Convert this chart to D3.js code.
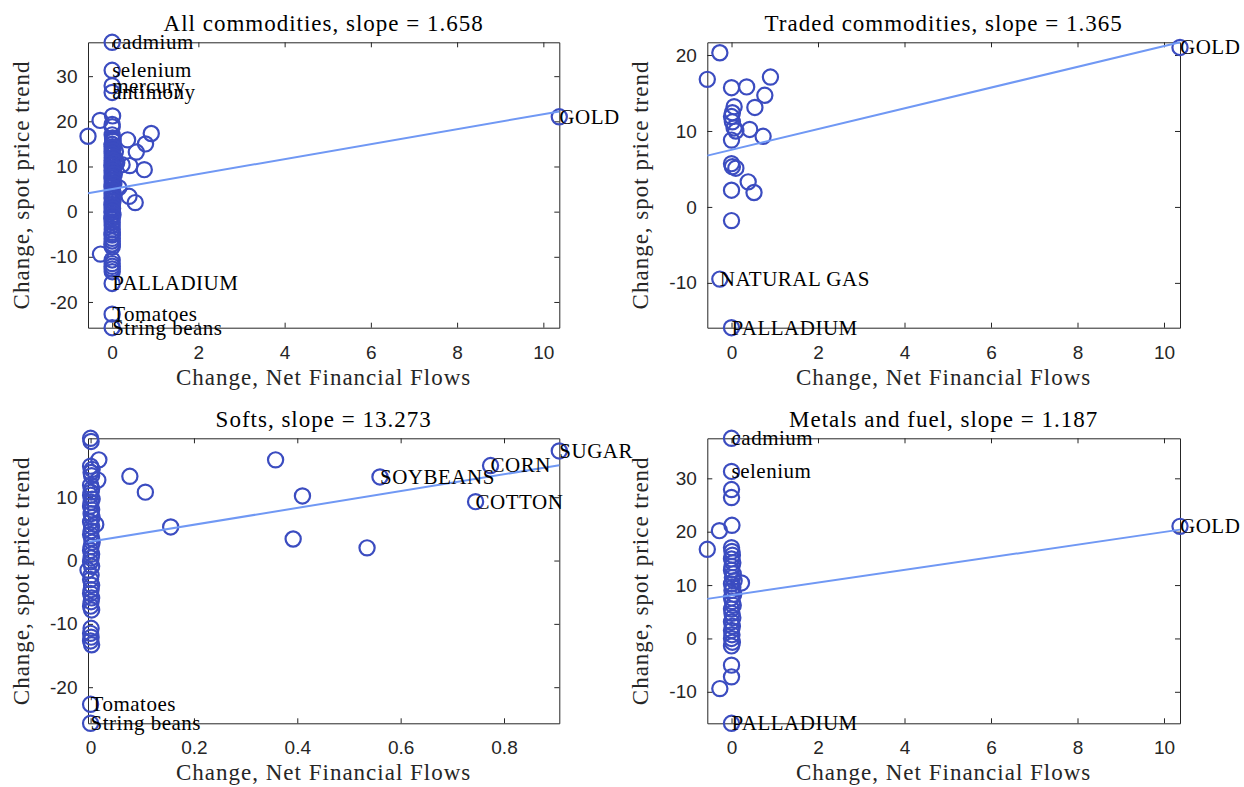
<!DOCTYPE html>
<html><head><meta charset="utf-8">
<script src="https://cdn.jsdelivr.net/npm/d3@7"></script>
<style>body{margin:0;background:#fff} svg{display:block}</style>
</head><body><svg id="chart" width="1244" height="787"></svg>
<script>
// ---------------- DATA ----------------
// Softs: first entries are the named ones
const softsNames = ["SUGAR","CORN","SOYBEANS","COTTON","Tomatoes","String beans"];
const softsX = [0.907,0.774,0.56,0.745,0.0,0.0,
  0.41,0.392,0.535,0.358,0.076,0.106,0.155,0.016,0.014,0.01,0.0,0.001,-0.005,
  0.0,0.003,0.001,0.002,0.0,0.002,0.001,0.0,0.003,0.001,0.0,0.002,0.001,0.003,0.0,0.002,0.001,0.0,0.002,0.003,
  0.001,0.0,0.002,0.001,0.0,0.002,0.001,0.0,0.002,0.001,0.0,0.002,0.001,0.0,0.002,0.001,0.0,0.001,0.0,0.002];
const softsY = [17.3,15.0,13.2,9.3,-22.7,-25.7,
  10.2,3.4,2.0,15.9,13.3,10.8,5.3,15.9,12.7,5.7,19.3,18.8,-1.5,
  14.9,14.4,13.9,13.4,11.9,11.3,10.8,10.3,9.7,9.2,8.6,8.0,7.4,6.8,6.1,5.4,4.7,4.1,3.5,2.9,
  2.2,1.6,1.0,0.4,-0.2,-0.9,-2.3,-3.0,-3.9,-4.6,-5.2,-5.9,-6.5,-7.2,-7.8,-10.7,-11.5,-12.1,-12.7,-13.3,-13.8];

// Metals and fuel: first entries are the named ones
const metalsNames = ["cadmium","selenium","mercury","antimony","GOLD","PALLADIUM","NATURAL GAS"];
const metalsX = [0.0,0.0,0.0,0.0,10.37,0.0,-0.27,
  0.01,-0.28,-0.56,0.23,0.0,0.0,
  0.0,0.01,0.02,0.0,0.03,0.01,0.0,0.04,0.02,0.06,0.0,0.03,0.01,0.05,0.0,0.02,0.04,0.0,0.01,0.03,0.0,0.02,0.0,0.01,0.0,0.02,0.0];
const metalsY = [37.5,31.3,27.9,26.4,21.0,-15.9,-9.4,
  21.2,20.2,16.7,10.4,-5.0,-7.2,
  17.0,16.3,15.6,14.9,14.2,13.5,12.8,12.1,11.4,10.8,10.2,9.6,9.0,8.3,7.6,6.9,6.2,5.5,4.7,3.9,3.1,2.3,1.5,0.7,0.0,-0.7,-1.4];

// Traded commodities: first entries are the named ones
const tradedNames = ["GOLD","NATURAL GAS","PALLADIUM","SUGAR","CORN","SOYBEANS","COTTON"];
const tradedX = [10.37,-0.27,0.0,0.90,0.77,0.54,0.73,
  -0.27,-0.56,0.0,0.35,0.06,0.02,0.0,0.02,0.06,0.1,0.42,0.0,0.0,0.02,0.1,0.385,0.52,0.0,0.0];
const tradedY = [21.0,-9.5,-15.9,17.1,14.7,13.1,9.3,
  20.3,16.8,15.7,15.8,13.2,12.4,11.9,11.2,10.4,10.0,10.2,8.8,5.7,5.3,5.1,3.3,1.9,2.2,-1.8];

const panelTitles = ["All commodities","Traded commodities","Softs","Metals and fuel"];
const fitSlopes = [1.658,1.365,13.273,1.187];
const fitIntercepts = [5.0,7.52,3.0,8.08];
const panelLabels = [
  ["cadmium","selenium","mercury","antimony","GOLD","PALLADIUM","Tomatoes","String beans"],
  ["GOLD","NATURAL GAS","PALLADIUM"],
  ["SUGAR","CORN","SOYBEANS","COTTON","Tomatoes","String beans"],
  ["cadmium","selenium","GOLD","PALLADIUM"]
];
const xTicksWide = [0,2,4,6,8,10];
const xTicksSofts = [0,0.2,0.4,0.6,0.8];
const yTicksAll = [-20,-10,0,10,20,30];
const yTicksTraded = [-10,0,10,20];
const yTicksSofts = [-20,-10,0,10];
const yTicksMetals = [-10,0,10,20,30];
const xLabelText = "Change, Net Financial Flows";
const yLabelText = "Change, spot price trend";

// ---------------- BUILD ----------------
function named(xs, ys, names){ return xs.map((x,i)=>({x, y: ys[i], name: names[i] || ""})); }
const softsPts = named(softsX, softsY, softsNames);
const metalsPts = named(metalsX, metalsY, metalsNames);
const tradedPts = named(tradedX, tradedY, tradedNames);

const panels = [
  {pts: softsPts.concat(metalsPts), xt: xTicksWide, yt: yTicksAll, box:[88,42.3,471.3,285.4]},
  {pts: tradedPts, xt: xTicksWide, yt: yTicksTraded, box:[707.3,42.3,472.7,285.4]},
  {pts: softsPts, xt: xTicksSofts, yt: yTicksSofts, box:[88,438.3,471.3,285]},
  {pts: metalsPts, xt: xTicksWide, yt: yTicksMetals, box:[707.3,438.3,472.7,285]}
];

const svg = d3.select("#chart");
const SERIF = "'Liberation Serif','Times New Roman',serif";
const SANS = "'Liberation Sans',Arial,sans-serif";
const AX = "#262626";
const fmt = d => String(+d.toFixed(3));

panels.forEach((p, k) => {
  const [L, T, W, H] = p.box;
  const slope = fitSlopes[k], icpt = fitIntercepts[k];
  const xExt = d3.extent(p.pts, d => d.x);
  const lineY = xExt.map(x => icpt + slope * x);
  const yExt = d3.extent(p.pts.map(d => d.y).concat(lineY));
  const x = d3.scaleLinear().domain(xExt).range([L, L + W]);
  const y = d3.scaleLinear().domain(yExt).range([T + H, T]);

  const g = svg.append("g");

  // axes (box with inward ticks)
  const style = sel => {
    sel.selectAll("path,line").attr("stroke", AX).attr("stroke-width", 1);
    sel.selectAll("text").attr("fill", AX).style("font-family", SANS).style("font-size", "19px");
  };
  g.append("g").attr("transform", `translate(0,${T+H})`)
    .call(d3.axisBottom(x).tickValues(p.xt).tickFormat(fmt).tickSizeInner(-5).tickSizeOuter(0).tickPadding(17.5))
    .call(style);
  g.append("g").attr("transform", `translate(0,${T})`)
    .call(d3.axisTop(x).tickValues(p.xt).tickFormat("").tickSizeInner(-5).tickSizeOuter(0))
    .call(style);
  g.append("g").attr("transform", `translate(${L},0)`)
    .call(d3.axisLeft(y).tickValues(p.yt).tickFormat(fmt).tickSizeInner(-5).tickSizeOuter(0).tickPadding(10.5))
    .call(style);
  g.append("g").attr("transform", `translate(${L+W},0)`)
    .call(d3.axisRight(y).tickValues(p.yt).tickFormat("").tickSizeInner(-5).tickSizeOuter(0))
    .call(style);
  g.selectAll(".domain").attr("fill", "none");

  // points
  g.append("g").selectAll("circle").data(p.pts).join("circle")
    .attr("cx", d => x(d.x)).attr("cy", d => y(d.y)).attr("r", 7.6)
    .attr("fill", "none").attr("stroke", "#3B4CC0").attr("stroke-width", 2.2);

  // fit line
  g.append("line")
    .attr("x1", x(xExt[0])).attr("y1", y(lineY[0]))
    .attr("x2", x(xExt[1])).attr("y2", y(lineY[1]))
    .attr("stroke", "#7098F4").attr("stroke-width", 2);

  // labels
  const labs = p.pts.filter(d => d.name && panelLabels[k].includes(d.name));
  g.append("g").selectAll("text").data(labs).join("text")
    .attr("x", d => x(d.x)).attr("y", d => y(d.y)).attr("dy", "0.33em")
    .style("font-family", SERIF).style("font-size", "21px").style("letter-spacing", "0.5px")
    .attr("fill", "#000").text(d => d.name);

  // title
  g.append("text").attr("x", L + W/2).attr("y", T - 11).attr("text-anchor", "middle")
    .style("font-family", SERIF).style("font-size", "23px").style("letter-spacing", "1px")
    .attr("fill", "#000").text(`${panelTitles[k]}, slope = ${slope.toFixed(3)}`);

  // x label
  g.append("text").attr("x", L + W/2).attr("y", T + H + 57).attr("text-anchor", "middle")
    .style("font-family", SERIF).style("font-size", "23px").style("letter-spacing", "1px")
    .attr("fill", AX).text(xLabelText);

  // y label
  g.append("text").attr("transform", `translate(${L-59.5},${T+H/2}) rotate(-90)`).attr("text-anchor", "middle")
    .style("font-family", SERIF).style("font-size", "23px").style("letter-spacing", "1px")
    .attr("fill", AX).text(yLabelText);
});
</script></body></html>
